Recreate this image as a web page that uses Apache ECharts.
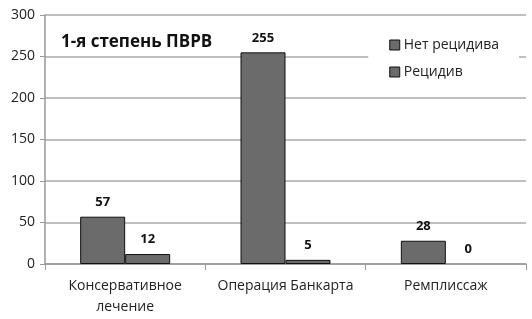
<!DOCTYPE html>
<html>
<head>
<meta charset="utf-8">
<script src="https://cdn.jsdelivr.net/npm/echarts@6/dist/echarts.min.js"></script>
<style>
  html, body { margin: 0; padding: 0; background: #fff; }
  #chart { width: 532px; height: 319px; }
</style>
</head>
<body>
<div id="chart"></div>
<script>
var categories = ['Консервативное\nлечение', 'Операция Банкарта', 'Ремплиссаж'];
var noRelapse = [57, 255, 28];
var relapse = [12, 5, 0];
var seriesNames = ['Нет рецидива', 'Рецидив'];

var chart = echarts.init(document.getElementById('chart'));
var font = '"Open Sans", sans-serif';

var labelStyle = {
    show: true,
    position: 'top',
    distance: 8,
    color: '#111',
    fontFamily: font,
    fontWeight: 'bold',
    fontSize: 13
};
var barStyle = {
    color: '#6b6b6b',
    borderColor: '#111',
    borderWidth: 1
};

// a zero bar should leave no visible outline
function toBars(values) {
    return values.map(function (v) {
        return v === 0 ? { value: v, itemStyle: { borderWidth: 0 } } : v;
    });
}

chart.setOption({
    animation: false,
    title: {
        text: '1-я степень ПВРВ',
        left: 56,
        top: 29,
        textStyle: { fontFamily: font, fontWeight: 'bold', fontSize: 17, color: '#111' }
    },
    legend: {
        orient: 'vertical',
        right: 13,
        top: 31,
        itemWidth: 10,
        itemHeight: 10,
        itemGap: 13,
        itemStyle: { borderColor: '#111', borderWidth: 1 },
        padding: [7, 20, 7, 21],
        backgroundColor: '#fff',
        icon: 'rect',
        textStyle: { fontFamily: font, fontSize: 14, color: '#222', padding: [0, 0, 0, -1] },
        data: seriesNames
    },
    grid: { left: 45, right: 6, top: 15, bottom: 55 },
    xAxis: {
        type: 'category',
        data: categories,
        axisLine: { lineStyle: { color: '#999', width: 1.5 } },
        axisTick: { show: true, length: 6, lineStyle: { color: '#999' } },
        axisLabel: { fontFamily: font, fontSize: 14, color: '#222', margin: 12, lineHeight: 21, interval: 0 }
    },
    yAxis: {
        type: 'value',
        min: 0,
        max: 300,
        interval: 50,
        axisLine: { show: true, lineStyle: { color: '#999', width: 1.5 } },
        axisTick: { show: true, length: 5, lineStyle: { color: '#999' } },
        axisLabel: { fontFamily: font, fontSize: 14, color: '#222', margin: 10 },
        splitLine: { lineStyle: { color: '#aaa', width: 1.5 } }
    },
    series: [
        {
            name: seriesNames[0],
            type: 'bar',
            data: toBars(noRelapse),
            barWidth: 45,
            barGap: '0%',
            itemStyle: barStyle,
            label: labelStyle,
            z: 3
        },
        {
            name: seriesNames[1],
            type: 'bar',
            data: toBars(relapse),
            barWidth: 45,
            barGap: '0%',
            itemStyle: barStyle,
            label: labelStyle,
            z: 3
        }
    ]
});
</script>
</body>
</html>
